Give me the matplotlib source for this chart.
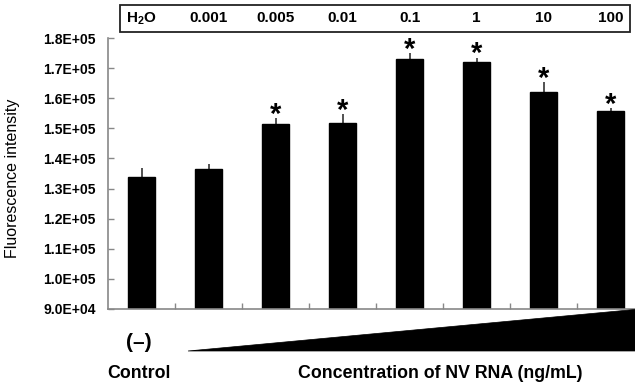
import matplotlib
matplotlib.use("Agg")
import matplotlib.pyplot as plt
from matplotlib.patches import Rectangle, Polygon
import numpy as np

plt.rcParams['font.family'] = ['Liberation Sans', 'DejaVu Sans']
plt.rcParams['mathtext.fontset'] = 'custom'
plt.rcParams['mathtext.rm'] = 'Liberation Sans'
plt.rcParams['mathtext.bf'] = 'Liberation Sans:bold'

# Data
groups = ["H$_\\mathbf{2}$O", "0.001", "0.005", "0.01", "0.1", "1", "10", "100"]
values = [134000, 136400, 151300, 151800, 173000, 172100, 162100, 155800]
errors = [2800, 1900, 2000, 3100, 1900, 1400, 3300, 800]
significant = [False, False, True, True, True, True, True, True]
yticks = [90000, 100000, 110000, 120000, 130000, 140000, 150000, 160000, 170000, 180000]

W, H = 635, 388
fig = plt.figure(figsize=(W / 100, H / 100), dpi=100)

def fx(px):
    return px / W

def fy(py):
    return 1 - py / H

ax = fig.add_axes([fx(108), fy(309), fx(644) - fx(108), fy(38) - fy(309)])
x = np.arange(len(values))
ax.bar(x, values, width=0.4, color='black', edgecolor='black', zorder=2)
ax.errorbar(x, values, yerr=[np.zeros(len(values)), errors], fmt='none',
            ecolor='#333333', elinewidth=1.2, capsize=0, zorder=1)

for xi, v, e, s in zip(x, values, errors, significant):
    if s:
        ax.annotate('*', xy=(xi, v + e), xytext=(0, -3.5), textcoords='offset points',
                    ha='center', va='baseline', fontsize=21, fontweight='bold',
                    color='black')

ax.set_xlim(-0.5, 7.5)
ax.set_ylim(90000, 180000)
ax.set_yticks(yticks)
ax.set_yticklabels(['{:.1E}'.format(t) for t in yticks], fontsize=10, fontweight='bold')
ax.set_xticks(np.arange(0.5, 7.5, 1.0))
ax.set_xticklabels([])
ax.tick_params(axis='both', direction='in', length=4, color='#888888', width=1)
ax.tick_params(axis='y', pad=9)
for side in ['top', 'right']:
    ax.spines[side].set_visible(False)
for side in ['left', 'bottom']:
    ax.spines[side].set_color('#888888')
    ax.spines[side].set_linewidth(1.2)

# Top label box
fig.patches.append(Rectangle((fx(120), fy(32)), fx(630) - fx(120), fy(5) - fy(32),
                             transform=fig.transFigure, fill=False,
                             edgecolor='#222222', linewidth=1.3))
trans = matplotlib.transforms.blended_transform_factory(ax.transData, fig.transFigure)
for xi, g in zip(x, groups):
    ax.text(xi, fy(18.5), g, transform=trans, ha='center', va='center',
            fontsize=11, fontweight='bold', clip_on=False)

# Y label
fig.text(fx(13), fy(178), 'Fluorescence intensity', rotation=90, ha='center',
         va='center', fontsize=11.5)

# Bottom annotations
fig.text(fx(139), fy(342), '(\u2013)', ha='center', va='center', fontsize=15,
         fontweight='bold')
fig.text(fx(139), fy(374), 'Control', ha='center', va='center', fontsize=12.8,
         fontweight='bold')
fig.text(fx(440), fy(374), 'Concentration of NV RNA (ng/mL)', ha='center',
         va='center', fontsize=12.8, fontweight='bold')
fig.patches.append(Polygon([(fx(188), fy(351)), (fx(640), fy(309)), (fx(640), fy(351))],
                           closed=True, transform=fig.transFigure,
                           facecolor='black', edgecolor='black', linewidth=0.5))

fig.savefig('out.png', dpi=100)
